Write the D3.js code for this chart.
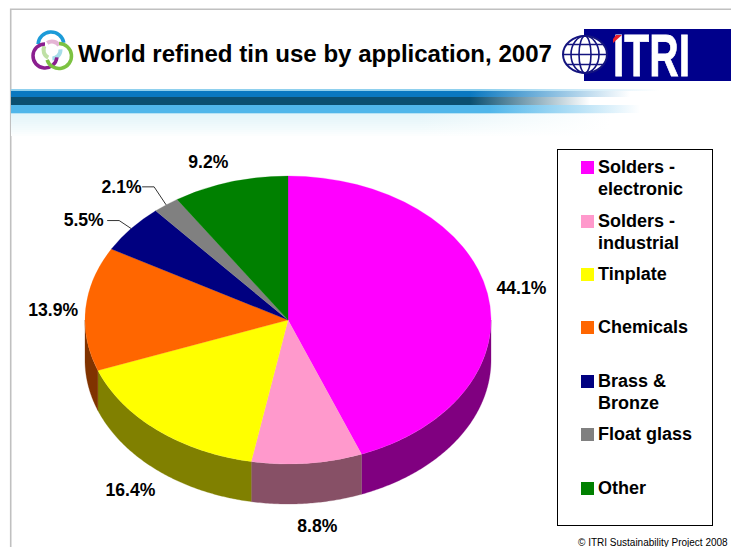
<!DOCTYPE html>
<html>
<head>
<meta charset="utf-8">
<script src="https://cdn.jsdelivr.net/npm/d3@7"></script>
<style>
  body { margin: 0; background: #fff; }
  text { font-family: "Liberation Sans", Arial, sans-serif; fill: #000; }
  .bold { font-weight: bold; }
</style>
</head>
<body>
<svg id="plot" width="731" height="547"></svg>
<script>
const categories = ['Solders - electronic', 'Solders - industrial', 'Tinplate', 'Chemicals', 'Brass & Bronze', 'Float glass', 'Other'];
const shares = [44.1, 8.8, 16.4, 13.9, 5.5, 2.1, 9.2];
const sliceColors = ['#ff00ff', '#ff99cc', '#ffff00', '#ff6600', '#000080', '#808080', '#008000'];
const wallColors = ['#800080', '#875066', '#808000', '#803300', '#000040', '#404040', '#004000'];
const legendLines = [['Solders -', 'electronic'], ['Solders -', 'industrial'], ['Tinplate'], ['Chemicals'], ['Brass &', 'Bronze'], ['Float glass'], ['Other']];

// layout, pixels
const legendRowY = [161, 215, 268, 321, 375, 428, 482];
const labelNudge = [[0, 0], [7, 0], [-5, 2], [2, 5], [-4, 0], [-3, 0], [-12, 5]];
const leaderLift = [0, 0, 0, 0, 8, 18, 0];
const leaderLabelGap = [0, 0, 0, 0, 23.5, 20.5, 0];
const cx = 288, cy = 320, rx = 203, ry = 144, depth = 40;

const plot = d3.select('#plot');
const defs = plot.append('defs');

function fade(id, stops) {
  const g = defs.append('linearGradient').attr('id', id)
    .attr('gradientUnits', 'userSpaceOnUse')
    .attr('x1', 11).attr('x2', 731).attr('y1', 0).attr('y2', 0);
  stops.forEach(s => g.append('stop')
    .attr('offset', (s[0] - 11) / 720)
    .attr('stop-color', s[1])
    .attr('stop-opacity', s[2]));
  return `url(#${id})`;
}

/* slide frame */
plot.append('path')
  .attr('d', 'M731,9.2H10.7V547')
  .attr('fill', 'none')
  .attr('stroke', '#c0c0c0')
  .attr('stroke-width', 1.6);

/* banner stripes */
const bands = [
  [89, 2, '#8fd0ee', 480, 660],
  [91, 6, '#0a78c0', 470, 630],
  [97, 8, '#0b4f70', 470, 590],
  [105, 8, '#50b6ea', 490, 640],
  [113, 1, '#b6e2f4', 480, 620]
];
bands.forEach((b, i) => {
  plot.append('rect')
    .attr('x', 11).attr('y', b[0])
    .attr('width', 720).attr('height', b[1])
    .attr('fill', fade('band' + i, [[11, b[2], 1], [b[3], b[2], 1], [b[4], b[2], 0]]));
});
const paleScale = d3.scaleLinear().domain([114, 120, 128, 136]).range(['#e4f5fa', '#eaf7fa', '#f3fbfc', '#ffffff']);
d3.range(114, 136, 2).forEach((y, i) => {
  plot.append('rect')
    .attr('x', 11).attr('y', y)
    .attr('width', 720).attr('height', 2)
    .attr('fill', fade('pale' + i, [[11, paleScale(y), 1], [420, paleScale(y), 1], [610, paleScale(y), 0]]));
});

/* swirl logo */
const swirl = plot.append('g');
function ring(x, y, r, a0, a1, colour, w) {
  swirl.append('path')
    .attr('transform', `translate(${x},${y})`)
    .attr('d', d3.arc().innerRadius(r - w / 2).outerRadius(r + w / 2).startAngle(a0).endAngle(a1)())
    .attr('fill', colour);
}
ring(52, 50, 8.5, -0.6, 1.0, '#e5b5d5', 4);
ring(52, 50, 8.5, 1.5, 3.1, '#a6dce8', 4);
ring(52, 50, 8.5, 3.6, 5.2, '#bfe0a5', 4);
ring(51, 45, 13, -1.5, 1.4, '#1c9bd8', 3.5);
ring(45, 56, 12, -4.6, 0, '#8b1f8f', 3.5);
ring(59, 56, 12.5, 0, 4.4, '#7cc242', 3.5);

/* title */
plot.append('text')
  .attr('class', 'bold')
  .attr('x', 78).attr('y', 62)
  .attr('font-size', 24.05)
  .text('World refined tin use by application, 2007');

/* ITRI logo */
plot.append('rect')
  .attr('x', 584).attr('y', 29)
  .attr('width', 147).attr('height', 52)
  .attr('fill', '#00008b');
const globe = plot.append('g')
  .attr('transform', 'translate(585,54.5)')
  .attr('fill', 'none')
  .attr('stroke', '#14147f')
  .attr('stroke-width', 1.6);
globe.append('ellipse').attr('rx', 22).attr('ry', 18.5).attr('fill', '#fff').attr('stroke-width', 2);
[14, 6].forEach(r => globe.append('ellipse').attr('rx', r).attr('ry', 18.5));
[-10, 0, 10].forEach(y => {
  const half = 22 * Math.sqrt(1 - (y / 18.5) ** 2);
  globe.append('line').attr('x1', -half).attr('x2', half).attr('y1', y).attr('y2', y);
});
plot.append('text')
  .attr('class', 'bold')
  .attr('x', 613).attr('y', 76)
  .attr('font-size', 59)
  .attr('textLength', 77)
  .attr('lengthAdjust', 'spacingAndGlyphs')
  .style('fill', '#fff')
  .style('stroke', '#fff')
  .style('stroke-width', 0.8)
  .text('ITRI');
plot.append('path')
  .attr('d', 'M613,43L622,35H616L613,39Z')
  .attr('fill', '#e8202a');

/* pie */
const pie = d3.pie().sort(null).value(d => d);
const slices = pie(shares);
const arc = d3.arc().innerRadius(0).outerRadius(rx);
const xAt = a => cx + rx * Math.sin(a);
const yAt = a => cy - ry * Math.cos(a);

const wall = d3.area()
  .x(xAt)
  .y0(yAt)
  .y1(a => yAt(a) + depth);

slices.forEach((s, i) => {
  const a0 = Math.max(s.startAngle, Math.PI / 2);
  const a1 = Math.min(s.endAngle, Math.PI * 1.5);
  if (a0 >= a1) return;
  plot.append('path')
    .attr('d', wall(d3.range(a0, a1, 0.01).concat(a1)))
    .attr('fill', wallColors[i])
    .attr('stroke', wallColors[i])
    .attr('stroke-width', 0.3);
});

plot.append('g')
  .attr('transform', `translate(${cx},${cy}) scale(1,${ry / rx})`)
  .selectAll('path')
  .data(slices)
  .join('path')
  .attr('d', arc)
  .attr('fill', (d, i) => sliceColors[i])
  .attr('stroke', (d, i) => sliceColors[i])
  .attr('stroke-width', 0.3);

/* data labels */
const labelReach = 1.17;
slices.forEach((s, i) => {
  const mid = (s.startAngle + s.endAngle) / 2;
  const lower = Math.cos(mid) < 0 ? depth : 0;
  let lx = cx + rx * labelReach * Math.sin(mid) + labelNudge[i][0];
  let ly = cy - ry * labelReach * Math.cos(mid) + lower + labelNudge[i][1];

  if (leaderLift[i]) {
    // elbow leader from the rim out to the label
    const ex = xAt(mid), ey = yAt(mid);
    const knee = [ex - 12, ey - leaderLift[i]];
    const end = [knee[0] - 12, knee[1]];
    plot.append('path')
      .attr('d', d3.line()([[ex, ey], knee, end]))
      .attr('fill', 'none')
      .attr('stroke', '#000')
      .attr('stroke-width', 0.8);
    lx = end[0] - leaderLabelGap[i];
    ly = end[1] + 1;
  }

  plot.append('text')
    .attr('class', 'bold')
    .attr('x', lx).attr('y', ly)
    .attr('text-anchor', 'middle')
    .attr('dominant-baseline', 'middle')
    .attr('font-size', 17.6)
    .text(d3.format('.1f')(shares[i]) + '%');
});

/* legend */
plot.append('rect')
  .attr('x', 557.5).attr('y', 149.5)
  .attr('width', 155).attr('height', 376)
  .attr('fill', '#fff')
  .attr('stroke', '#000')
  .attr('stroke-width', 1);

categories.forEach((c, i) => {
  const y = legendRowY[i];
  plot.append('rect')
    .attr('x', 581).attr('y', y)
    .attr('width', 13).attr('height', 13)
    .attr('fill', sliceColors[i]);
  legendLines[i].forEach((line, k) => {
    plot.append('text')
      .attr('class', 'bold')
      .attr('x', 598).attr('y', y + 12 + k * 21.5)
      .attr('font-size', 18)
      .text(line);
  });
});

plot.append('text')
  .attr('x', 578).attr('y', 545.5)
  .attr('font-size', 10)
  .text('© ITRI Sustainability Project 2008');
</script>
</body>
</html>
